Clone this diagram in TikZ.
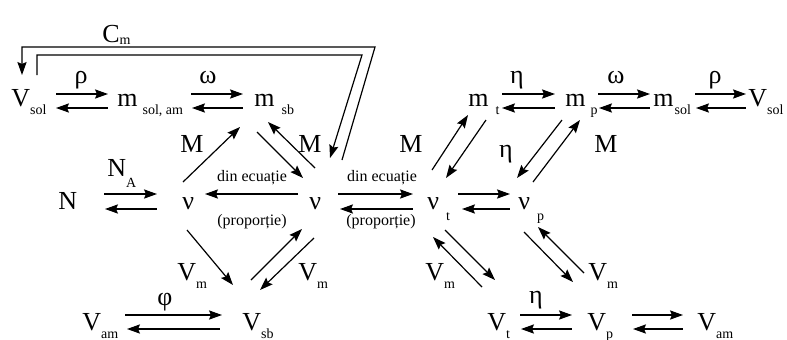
\documentclass[tikz,border=0pt]{standalone}
\usepackage{fontspec}
\setmainfont{Liberation Serif}
\usetikzlibrary{arrows.meta}
\newcommand{\subfont}{\fontsize{7}{8}\selectfont}
\newcommand{\Vsub}[1]{V\raisebox{-4pt}{\subfont #1}}
\newcommand{\msub}[2][2.5pt]{m\kern#1\raisebox{-4pt}{\subfont #2}}
\newcommand{\nusub}[1]{ν\kern3.5pt\raisebox{-5.5pt}{\subfont #1}}

\begin{document}
\begin{tikzpicture}[
    x=0.5pt,y=-0.5pt,
    qty/.style={anchor=base west,inner sep=0pt,font=\fontsize{13}{15}\selectfont},
    sym/.style={anchor=base,inner sep=0pt,font=\fontsize{13}{15}\selectfont},
    note/.style={anchor=base,inner sep=0pt,font=\fontsize{8}{9}\selectfont},
    fwd/.style={-{Stealth[length=6.5pt,width=4.6pt,inset=1pt]},line width=0.6pt},
    bwd/.style={{Stealth[length=6.5pt,width=4.6pt,inset=1pt]}-,line width=0.6pt}
  ]
  \useasboundingbox (0,0) rectangle (787,339);

  % quantities, top row
  \node[qty] (vsolL) at (11,106) {\Vsub{sol}};
  \node[qty] (msolam) at (117,106) {\msub{sol, am}};
  \node[qty] (msb) at (254,106) {\msub[3.5pt]{sb}};
  \node[qty] (mt) at (468,106) {\msub[3.5pt]{t}};
  \node[qty] (mp) at (565,106) {\msub{p}};
  \node[qty] (msol) at (653,106) {\msub[0.5pt]{sol}};
  \node[qty] (vsolR) at (748,106) {\Vsub{sol}};
  % middle row
  \node[qty] (n) at (58,209) {N};
  \node[qty] (nuA) at (182,209) {ν};
  \node[qty] (nuB) at (309,209) {ν};
  \node[qty] (nut) at (427,209) {\nusub{t}};
  \node[qty] (nup) at (518,209) {\nusub{p}};
  % bottom row
  \node[qty] (vamL) at (82,330) {\Vsub{am}};
  \node[qty] (vsb) at (242,330) {\Vsub{sb}};
  \node[qty] (vt) at (487,330) {\Vsub{t}};
  \node[qty] (vp) at (587,330) {\Vsub{p}};
  \node[qty] (vamR) at (697,330) {\Vsub{am}};

  % labels
  \node[qty] (cm) at (102,42) {C\raisebox{-1pt}{\subfont m}};
  \node[sym] (rhoL) at (81,83) {ρ};
  \node[sym] (omegaL) at (208,83) {ω};
  \node[sym] (etaT) at (517,83) {η};
  \node[sym] (omegaR) at (616,83) {ω};
  \node[sym] (rhoR) at (715,83) {ρ};
  \node[qty] (na) at (107,176) {N\raisebox{-5.5pt}{\subfont A}};
  \node[note] (eqA) at (252,181) {din ecuație};
  \node[note] (propA) at (252,225) {(proporție)};
  \node[note] (eqB) at (382,181) {din ecuație};
  \node[note] (propB) at (381,225) {(proporție)};
  \node[sym] (mA) at (192,152) {M};
  \node[sym] (mB) at (310,152) {M};
  \node[sym] (mC) at (411,152) {M};
  \node[sym] (mD) at (606,152) {M};
  \node[sym] (etaM) at (506,157) {η};
  \node[qty] (vmA) at (177,280) {\Vsub{m}};
  \node[qty] (vmB) at (298,280) {\Vsub{m}};
  \node[qty] (vmC) at (425,280) {\Vsub{m}};
  \node[qty] (vmD) at (588,280) {\Vsub{m}};
  \node[sym] (phi) at (165,305) {φ};
  \node[sym] (etaB) at (536,303) {η};

  % horizontal pairs, top row
  \draw[fwd] ([shift={(45,-12)}]vsolL.base west) -- ([shift={(-9,-12)}]msolam.base west);
  \draw[bwd] ([shift={(45,2)}]vsolL.base west) -- ([shift={(-9,2)}]msolam.base west);
  \draw[fwd] ([shift={(74,-12)}]msolam.base west) -- ([shift={(-11,-12)}]msb.base west);
  \draw[bwd] ([shift={(75,2)}]msolam.base west) -- ([shift={(-11,2)}]msb.base west);
  \draw[fwd] ([shift={(34,-12)}]mt.base west) -- ([shift={(-10,-12)}]mp.base west);
  \draw[bwd] ([shift={(34,2)}]mt.base west) -- ([shift={(-10,2)}]mp.base west);
  \draw[fwd] ([shift={(33,-12)}]mp.base west) -- ([shift={(-3,-12)}]msol.base west);
  \draw[bwd] ([shift={(34,2)}]mp.base west) -- ([shift={(-3,2)}]msol.base west);
  \draw[fwd] ([shift={(42,-12)}]msol.base west) -- ([shift={(-2,-12)}]vsolR.base west);
  \draw[bwd] ([shift={(43,2)}]msol.base west) -- ([shift={(-2,2)}]vsolR.base west);

  % horizontal pairs, middle row
  \draw[fwd] ([shift={(46,-15)}]n.base west) -- ([shift={(-25,-15)}]nuA.base west);
  \draw[bwd] ([shift={(47,0)}]n.base west) -- ([shift={(-25,0)}]nuA.base west);
  \draw[fwd] ([shift={(-11,-15)}]nuB.base west) -- ([shift={(23,-15)}]nuA.base west);
  \draw[fwd] ([shift={(29,-15)}]nuB.base west) -- ([shift={(-14,-15)}]nut.base west);
  \draw[bwd] ([shift={(31,0)}]nuB.base west) -- ([shift={(-14,0)}]nut.base west);
  \draw[fwd] ([shift={(31,-15)}]nut.base west) -- ([shift={(-8,-15)}]nup.base west);
  \draw[bwd] ([shift={(35,0)}]nut.base west) -- ([shift={(-8,0)}]nup.base west);

  % horizontal pairs, bottom row
  \draw[fwd] ([shift={(43,-15)}]vamL.base west) -- ([shift={(-20,-15)}]vsb.base west);
  \draw[bwd] ([shift={(45,-1)}]vamL.base west) -- ([shift={(-22,-1)}]vsb.base west);
  \draw[fwd] ([shift={(33,-15)}]vt.base west) -- ([shift={(-15,-15)}]vp.base west);
  \draw[bwd] ([shift={(34,-1)}]vt.base west) -- ([shift={(-15,-1)}]vp.base west);
  \draw[fwd] ([shift={(45,-15)}]vp.base west) -- ([shift={(-14,-15)}]vamR.base west);
  \draw[bwd] ([shift={(46,-1)}]vp.base west) -- ([shift={(-14,-1)}]vamR.base west);

  % diagonals through M
  \draw[fwd] ([shift={(1,-27)}]nuA.base west) -- ([shift={(-14,21)}]msb.base west);
  \draw[fwd] ([shift={(3,26)}]msb.base west) -- ([shift={(-6,-31)}]nuB.base west);
  \draw[fwd] ([shift={(6,-41)}]nuB.base west) -- ([shift={(14,16)}]msb.base west);
  \draw[fwd] ([shift={(5,-39)}]nut.base west) -- ([shift={(0,9)}]mt.base west);
  \draw[fwd] ([shift={(18,14)}]mt.base west) -- ([shift={(19,-31)}]nut.base west);
  \draw[fwd] ([shift={(-3,14)}]mp.base west) -- ([shift={(-1,-31)}]nup.base west);
  \draw[fwd] ([shift={(15,-27)}]nup.base west) -- ([shift={(15,14)}]mp.base west);

  % diagonals through Vm
  \draw[fwd] ([shift={(5,21)}]nuA.base west) -- ([shift={(-9,-45)}]vsb.base west);
  \draw[fwd] ([shift={(9,-50)}]vsb.base west) -- ([shift={(-7,20)}]nuB.base west);
  \draw[fwd] ([shift={(5,29)}]nuB.base west) -- ([shift={(18,-40)}]vsb.base west);
  \draw[fwd] ([shift={(18,21)}]nut.base west) -- ([shift={(8,-50)}]vt.base west);
  \draw[fwd] ([shift={(-5,-43)}]vt.base west) -- ([shift={(6,28)}]nut.base west);
  \draw[fwd] ([shift={(6,23)}]nup.base west) -- ([shift={(-14,-48)}]vp.base west);
  \draw[fwd] ([shift={(-3,-57)}]vp.base west) -- ([shift={(20,18)}]nup.base west);

  % Cm loop
  \draw[fwd] ([shift={(33,-49)}]nuB.base west) -- ++(33,-113)
    -| ([shift={(11,-31)}]vsolL.base west);
  \draw[fwd] ([shift={(26,-31)}]vsolL.base west) |- ++(325,-20)
    -- ([shift={(21,-51)}]nuB.base west);
\end{tikzpicture}
\end{document}
